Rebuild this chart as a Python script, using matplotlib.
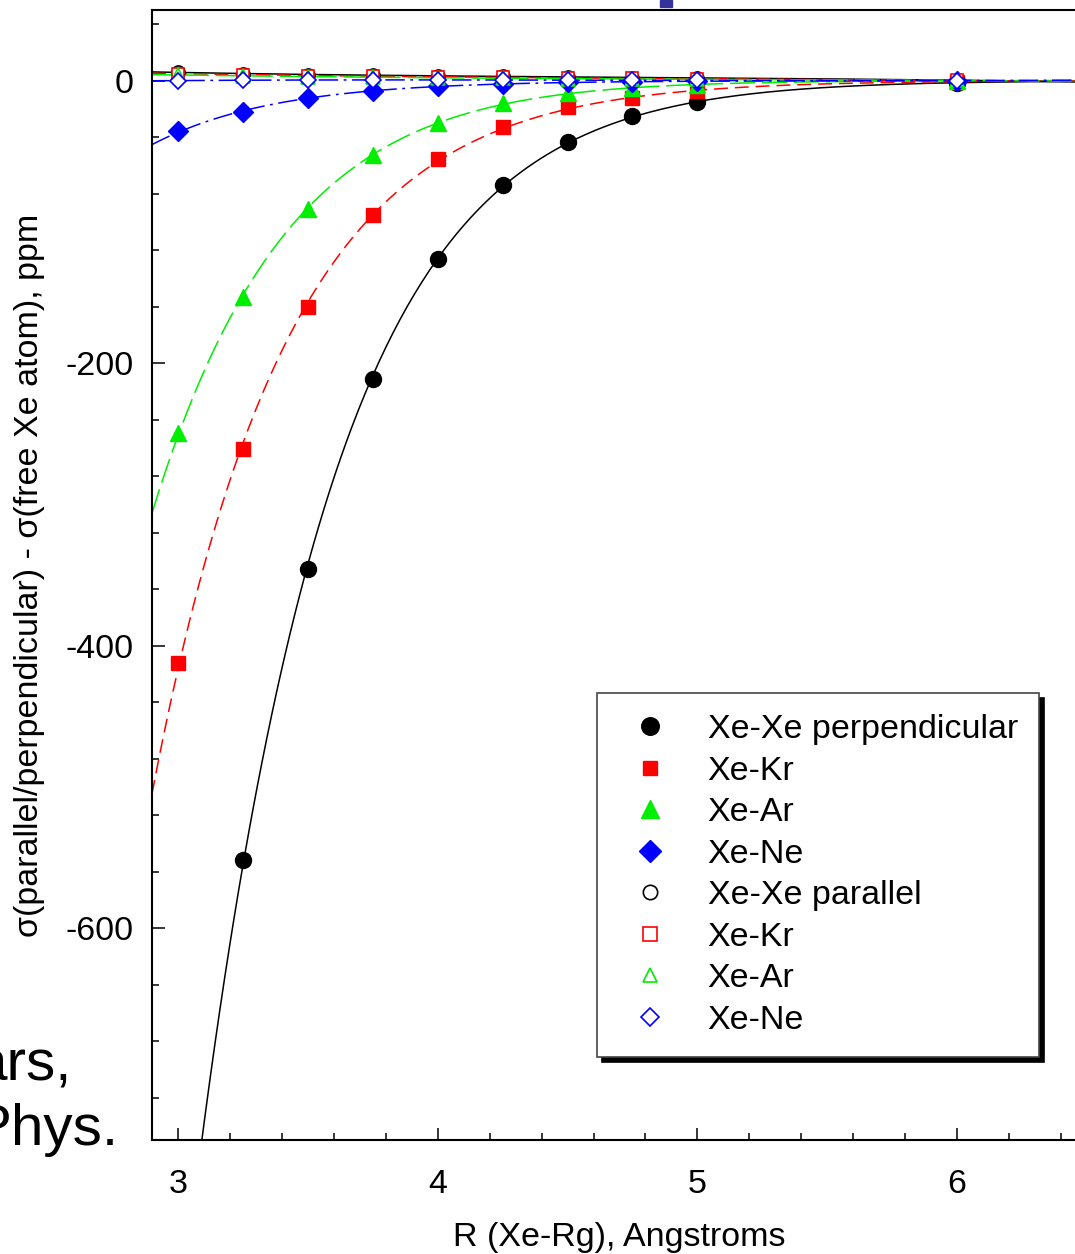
import numpy as np
import matplotlib.pyplot as plt
from matplotlib.patches import Rectangle
from matplotlib.ticker import MultipleLocator

plt.rcParams['font.family'] = ['Liberation Sans', 'DejaVu Sans']
plt.rcParams['axes.unicode_minus'] = False
plt.rcParams['lines.scale_dashes'] = False

# shielding difference (ppm) vs Xe-Rg separation (Angstrom)
r = [3.0, 3.25, 3.5, 3.75, 4.0, 4.25, 4.5, 4.75, 5.0, 6.0]
r_xexe_perp = [3.25, 3.5, 3.75, 4.0, 4.25, 4.5, 4.75, 5.0, 6.0]
xexe_perp = [-552, -345.6, -211.3, -126.5, -74.2, -43.1, -24.7, -15.0, -1.9]
xekr_perp = [-412, -260.8, -160.4, -95.4, -55.8, -32.5, -18.4, -12.0, -7.5, -1.0]
xear_perp = [-249.5, -153.4, -91.2, -53.0, -29.7, -15.8, -8.7, -5.0, -3.0, -0.3]
xene_perp = [-36, -22, -12.6, -7.6, -4.0, -2.2, -1.2, -0.7, -0.4, -0.1]

xexe_par = [5.9, 5.0, 4.2, 3.8, 3.4, 3.1, 2.8, 2.2, 1.8, 0.3]
xekr_par = [4.9, 4.3, 3.6, 3.1, 2.7, 2.3, 2.0, 1.6, 1.3, 0.2]
xear_par = [4.0, 3.4, 2.9, 2.4, 2.0, 1.7, 1.4, 1.1, 0.9, 0.1]
xene_par = [0.0, 0.3, 0.5, 0.5, 0.5, 0.4, 0.3, 0.2, 0.2, 0.0]

colors = ['black', '#ff0000', '#00ee00', '#0000ff']
dashes = [(None, None), (10, 5), (18, 5), (14, 4, 2, 4)]


def perp_curve(x, y, xs):
    # smooth fit through log of the (negative) shift
    x = np.asarray(x)
    y = -np.asarray(y, dtype=float)
    c = np.polyfit(x, np.log(y), 2, w=np.sqrt(y))
    return -np.exp(np.polyval(c, xs))


def par_curve(x, y, xs):
    c = np.polyfit(x, y, 3)
    return np.polyval(c, xs)


fig = plt.figure(figsize=(10.75, 12.54), dpi=100)
ax = fig.add_axes([152 / 1075, 114 / 1254, (1087 - 152) / 1075, 1130 / 1254])

xs = np.linspace(2.9, 6.5, 400)
perp_sets = [(r_xexe_perp, xexe_perp), (r, xekr_perp), (r, xear_perp), (r, xene_perp)]
par_sets = [xexe_par, xekr_par, xear_par, xene_par]

for (x, y), c, d in zip(perp_sets, colors, dashes):
    ln, = ax.plot(xs, perp_curve(x, y, xs), color=c, lw=1.1)
    if d[0] is not None:
        ln.set_dashes(d)
for y, c, d in zip(par_sets, colors, dashes):
    ln, = ax.plot(xs, par_curve(r, y, xs), color=c, lw=1.1)
    if d[0] is not None:
        ln.set_dashes(d)

filled = [('o', 11.5), ('s', 9.8), ('^', 11.5), ('D', 10)]
opened = [('o', 9.4), ('s', 8.6), ('^', 9.4), ('D', 8)]
names = ['Xe-Kr', 'Xe-Ar', 'Xe-Ne']

handles = []
for (x, y), c, (m, s), lab in zip(perp_sets, colors, filled,
                                   ['Xe-Xe perpendicular'] + names):
    h, = ax.plot(x, y, ls='none', marker=m, ms=s, color=c, mec=c, label=lab)
    handles.append(h)
for y, c, (m, s), lab in zip(par_sets, colors, opened,
                             ['Xe-Xe parallel'] + names):
    h, = ax.plot(r, y, ls='none', marker=m, ms=s, mfc='white', mec=c,
                 mew=1.2, label=lab)
    handles.append(h)

ax.set_xlim(2.9, 6.5)
ax.set_ylim(-750, 50)
ax.xaxis.set_major_locator(MultipleLocator(1))
ax.xaxis.set_minor_locator(MultipleLocator(0.2))
ax.yaxis.set_major_locator(MultipleLocator(200))
ax.yaxis.set_minor_locator(MultipleLocator(40))
ax.tick_params(which='both', direction='in', width=1.1, labelsize=24.5)
ax.tick_params(which='major', length=9)
ax.tick_params(which='minor', length=5)
ax.tick_params(axis='x', pad=21)
ax.tick_params(axis='y', pad=13)
for sp in ax.spines.values():
    sp.set_linewidth(1.5)

ax.set_xlabel('R (Xe-Rg), Angstroms', fontsize=24.5, labelpad=16)
ax.set_ylabel('σ(parallel/perpendicular) - σ(free Xe atom), ppm',
              fontsize=24.5, labelpad=15)

leg = ax.legend(handles=handles, loc='upper left',
                bbox_to_anchor=(597 / 1075, 1 - 693 / 1254),
                bbox_transform=fig.transFigure, borderaxespad=0,
                fontsize=24.5, frameon=True, fancybox=False, framealpha=1,
                edgecolor='#444444', handlelength=1.9, handletextpad=0.73,
                borderpad=0.62, labelspacing=0.31, markerscale=1.1,
                shadow={'ox': 3.6, 'oy': -3.6, 'color': 'black', 'alpha': 1})
leg.get_frame().set_linewidth(1.2)

# leftover slide text and header block
fig.text(72 / 1075, 1 - 1080 / 1254, 'ars,', fontsize=42, ha='right',
         va='baseline')
fig.text(118 / 1075, 1 - 1145 / 1254, 'Phys.', fontsize=42, ha='right',
         va='baseline')
fig.patches.append(Rectangle((660 / 1075, 1 - 7 / 1254), 12 / 1075, 7 / 1254,
                             transform=fig.transFigure, color='#333399'))

fig.savefig('out.png', dpi=100)
